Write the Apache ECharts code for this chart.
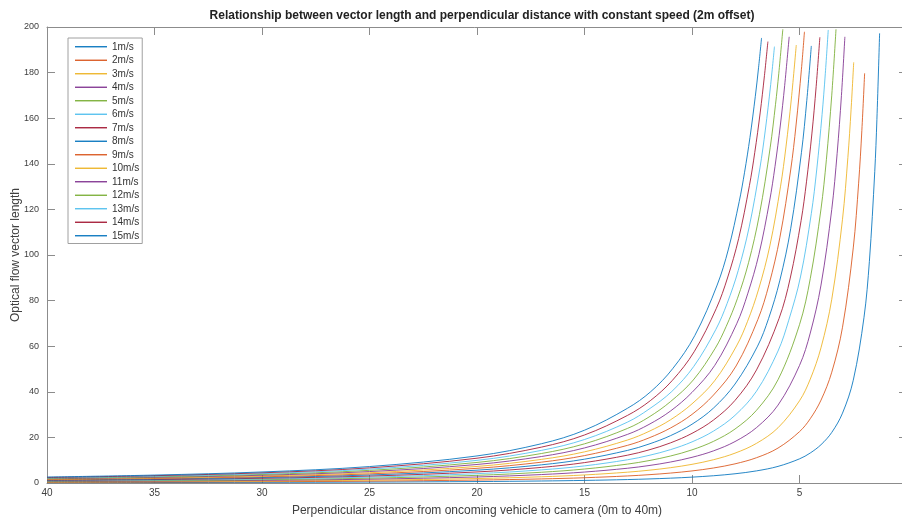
<!DOCTYPE html>
<html>
<head>
<meta charset="utf-8">
<script src="https://cdn.jsdelivr.net/npm/echarts@6/dist/echarts.min.js"></script>
<style>html,body{margin:0;padding:0;background:#fff;}#c{width:902px;height:521px;}</style>
</head>
<body>
<div id="c"></div>
<script>
const seriesNames = ['1m/s','2m/s','3m/s','4m/s','5m/s','6m/s','7m/s','8m/s','9m/s','10m/s','11m/s','12m/s','13m/s','14m/s','15m/s'];
const xTicks = [0,5,10,15,20,25,30,35,40];
const yTicks = [0,20,40,60,80,100,120,140,160,180,200];

const s1 = [[40,0.157],[35,0.206],[30,0.28],[25,0.405],[20,0.634],[17,0.88],[15,1.132],[13,1.512],[12,1.778],[11,2.12],[10,2.572],[9,3.186],[8,4.048],[7,5.315],[6,7.284],[5,10.59],[4.5,13.16],[4,16.8],[3.5,22.18],[3,30.64],[2.5,45.05],[2,72.67],[1.75,97.18],[1.5,136.6],[1.4,159.4],[1.274,197.2]];
const s2 = [[40,0.317],[35,0.415],[30,0.566],[25,0.818],[20,1.286],[17,1.789],[15,2.308],[13,3.092],[12,3.642],[11,4.355],[10,5.297],[9,6.582],[8,8.401],[7,11.09],[6,15.32],[5,22.52],[4.5,28.2],[4,36.34],[3.5,48.59],[3,68.31],[2.5,103.1],[2.25,131.5],[2.1,154.6],[1.971,179.7]];
const s3 = [[40,0.479],[35,0.627],[30,0.857],[25,1.242],[20,1.957],[17,2.73],[15,3.531],[13,4.744],[12,5.601],[11,6.711],[10,8.188],[9,10.21],[8,13.09],[7,17.39],[6,24.22],[5,36.06],[4.5,45.54],[4,59.34],[3.5,80.56],[3,115.7],[2.75,142.8],[2.6,163.9],[2.479,184.5]];
const s4 = [[40,0.643],[35,0.843],[30,1.154],[25,1.675],[20,2.648],[17,3.704],[15,4.803],[13,6.475],[12,7.659],[11,9.201],[10,11.26],[9,14.1],[8,18.17],[7,24.3],[6,34.15],[5,51.55],[4.5,65.75],[4,86.81],[3.5,120],[3.25,144.5],[3.05,169.9],[2.889,195.7]];
const s5 = [[40,0.81],[35,1.063],[30,1.457],[25,2.119],[20,3.36],[17,4.713],[15,6.127],[13,8.289],[12,9.827],[11,11.84],[10,14.53],[9,18.27],[8,23.67],[7,31.89],[6,45.29],[5,69.44],[4.5,89.61],[4,120.2],[3.75,141.8],[3.5,170.1],[3.302,199]];
const s6 = [[40,0.979],[35,1.286],[30,1.766],[25,2.573],[20,4.094],[17,5.76],[15,7.508],[13,10.19],[12,12.11],[11,14.63],[10,18.03],[9,22.77],[8,29.67],[7,40.28],[6,57.87],[5.5,71.39],[4.955,90.36],[4.45,118.2],[4.2,137.3],[3.95,161.6],[3.8,179.5],[3.663,198.7]];
const s7 = [[40,1.15],[35,1.513],[30,2.08],[25,3.038],[20,4.85],[17,6.844],[15,8.947],[13,12.2],[12,14.52],[11,17.6],[10,21.77],[9,27.62],[8,36.22],[7,49.6],[5.95,72.19],[5.43,89.88],[4.925,115.1],[4.675,132.1],[4.425,153.1],[4.225,173.9],[4.053,195.5]];
const s8 = [[40,1.324],[35,1.744],[30,2.402],[25,3.515],[20,5.631],[17,7.971],[15,10.45],[13,14.3],[12,17.08],[11,20.76],[10,25.77],[9,32.87],[8,43.4],[6.95,60.02],[6.435,72.23],[5.92,88.65],[5.41,111.5],[4.91,144.9],[4.66,167.8],[4.45,191.7]];
const s9 = [[40,1.501],[35,1.979],[30,2.729],[25,4.004],[20,6.436],[17,9.14],[15,12.02],[13,16.52],[12,19.78],[11,24.12],[10,30.08],[9,38.58],[7.95,51.32],[6.935,71.75],[6.42,86.97],[5.91,107.8],[5.41,137.3],[5.16,157],[4.91,181.5],[4.77,197.9]];
const s10 = [[40,1.68],[35,2.218],[30,3.064],[25,4.505],[20,7.267],[17,10.36],[15,13.66],[13,18.85],[12,22.64],[11,27.72],[10,34.72],[8.95,44.8],[7.93,60.1],[7.415,70.92],[6.9,85.03],[6.38,104],[5.88,130.2],[5.63,147.4],[5.38,168.4],[5.15,192.1]];
const s11 = [[40,1.862],[35,2.461],[30,3.405],[25,5.018],[20,8.126],[17,11.62],[15,15.38],[13,21.32],[12,25.69],[11,31.57],[10,39.74],[8.94,51.61],[7.92,69.87],[7.41,82.96],[6.89,100.2],[6.39,123.7],[6.14,138.8],[5.89,157],[5.69,174.3],[5.48,195.7]];
const s12 = [[40,2.047],[35,2.709],[30,3.754],[25,5.545],[20,9.014],[17,12.94],[15,17.18],[13,23.94],[12,28.94],[11,35.7],[9.94,45.18],[8.92,59.1],[8.41,68.67],[7.89,80.82],[7.37,96.62],[6.865,117.7],[6.365,147],[6.115,166.1],[5.965,179.5],[5.775,199]];
const s13 = [[40,2.235],[35,2.961],[30,4.11],[25,6.086],[20,9.933],[17,14.31],[15,19.07],[13,26.71],[12,32.4],[10.94,40.14],[9.92,51.1],[8.89,67.37],[8.37,78.67],[7.85,93.18],[7.34,112.3],[6.84,138.2],[6.59,154.8],[6.34,174.8],[6.165,191.4]];
const s14 = [[40,2.425],[35,3.218],[30,4.473],[25,6.641],[20,10.88],[17,15.74],[15,21.06],[13,29.65],[11.94,36.1],[10.92,44.94],[9.9,57.57],[8.87,76.55],[8.35,89.91],[7.83,107.2],[7.33,130.4],[7.08,145],[6.83,162.3],[6.63,178.7],[6.47,193.6]];
const s15 = [[40,2.619],[35,3.479],[30,4.845],[25,7.212],[20,11.87],[17,17.23],[15,23.15],[13,32.78],[11.92,40.06],[10.9,50.13],[9.87,64.66],[8.83,86.81],[8.305,102.6],[7.805,123.4],[7.555,136.3],[7.305,151.5],[7.055,169.6],[6.905,182.1],[6.765,195.2]];

const allSeries = [s1,s2,s3,s4,s5,s6,s7,s8,s9,s10,s11,s12,s13,s14,s15];
const palette = ['#0072BD','#D95319','#EDB120','#7E2F8E','#77AC30','#4DBEEE','#A2142F'];
const FONT = 'Liberation Sans, Arial, sans-serif';
const axisGray = '#8c8c8c';
const labelGray = '#404040';

const chart = echarts.init(document.getElementById('c'), null, {renderer: 'canvas'});

const series = allSeries.map((d, i) => ({
  name: seriesNames[i],
  type: 'line',
  data: d,
  xAxisIndex: 0,
  yAxisIndex: 0,
  showSymbol: false,
  symbol: 'none',
  smooth: 0.35,
  lineStyle: {width: 1, color: palette[i % 7], opacity: 0.85},
  itemStyle: {color: palette[i % 7]},
  emphasis: {disabled: true},
  animation: false
}));

function xAx(pos, main) {
  return {
    type: 'value', position: pos, min: xTicks[0], max: xTicks[xTicks.length-1], interval: 5, inverse: true,
    name: main ? 'Perpendicular distance from oncoming vehicle to camera (0m to 40m)' : '',
    nameLocation: 'middle', nameGap: 22, nameMoveOverlap: false,
    nameTextStyle: {fontFamily: FONT, fontSize: 12, color: labelGray},
    axisLine: {show: true, onZero: false, lineStyle: {color: axisGray, width: 1}},
    axisTick: {show: true, inside: true, length: 8, lineStyle: {color: axisGray}},
    axisLabel: {show: main, showMinLabel: false, margin: 5, fontFamily: FONT, fontSize: 10, color: labelGray},
    splitLine: {show: false}
  };
}
function yAx(pos, main) {
  return {
    type: 'value', position: pos, min: yTicks[0], max: yTicks[yTicks.length-1], interval: 20,
    name: main ? 'Optical flow vector length' : '',
    nameLocation: 'middle', nameGap: 25, nameMoveOverlap: false,
    nameTextStyle: {fontFamily: FONT, fontSize: 12, color: labelGray},
    axisLine: {show: true, onZero: false, lineStyle: {color: axisGray, width: 1}},
    axisTick: {show: true, inside: true, length: 8, lineStyle: {color: axisGray}},
    axisLabel: {show: main, margin: 8, fontFamily: FONT, fontSize: 9, color: labelGray},
    splitLine: {show: false}
  };
}

chart.setOption({
  animation: false,
  backgroundColor: '#ffffff',
  title: {
    text: 'Relationship between vector length and perpendicular distance with constant speed (2m offset)',
    left: 477, top: 5, textAlign: 'center',
    textStyle: {fontFamily: FONT, fontSize: 12, fontWeight: 'bold', color: '#222'}
  },
  grid: {left: 47, right: -5, top: 27, bottom: 38, containLabel: false, outerBoundsMode: 'none'},
  xAxis: [xAx('bottom', true), xAx('top', false)],
  yAxis: [yAx('left', true), yAx('right', false)],
  legend: {
    orient: 'vertical', left: 68, top: 38,
    padding: [2, 3, 1, 7],
    itemGap: 0, itemWidth: 32, itemHeight: 1.3, icon: 'rect',
    backgroundColor: '#ffffff', borderColor: '#a0a0a0', borderWidth: 1,
    textStyle: {fontFamily: FONT, fontSize: 10, color: '#333', lineHeight: 13.5},
    data: seriesNames,
    selectedMode: false
  },
  series: series
});
</script>
</body>
</html>
